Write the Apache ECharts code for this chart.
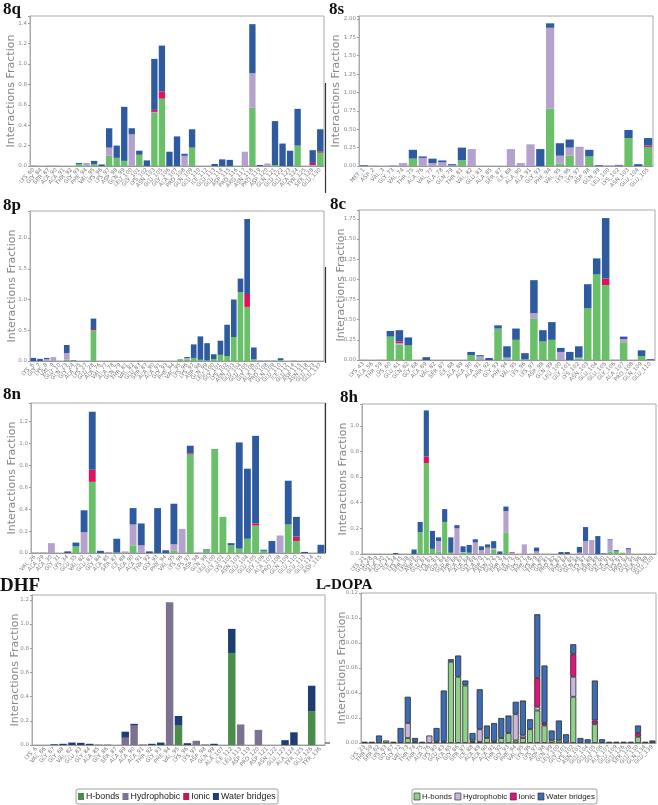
<!DOCTYPE html>
<html><head><meta charset="utf-8">
<script src="https://cdn.jsdelivr.net/npm/echarts@6/dist/echarts.min.js"></script>
<style>html,body{margin:0;padding:0;background:#fff}#c{width:658px;height:805px}</style>
</head><body><div id="c"></div>
<script>
// ---------- DATA ----------
const seriesNames = ['H-bonds','Hydrophobic','Ionic','Water bridges'];

// 8q
const q_cats = ['LYS_60','GLY_84','SER_87','ALA_90','ALA_91','THR_92','GLY_93','PHE_94','VAL_95','LYS_96','LYS_97','ASP_98','GLN_99','LEU_100','GLY_101','LYS_102','ASN_103','GLU_105','GLY_106','ALA_107','PRO_108','GLN_109','GLU_110','ILE_112','GLU_113','GLU_114','ASP_115','PRO_116','ARG_117','ASN_118','PRO_119','ASP_120','GLN_121','GLU_122','GLU_123','ALA_124','TYR_125','SER_128','GLU_130'];
const q_hb  = [0,0,0,0,0,0,0.02,0,0.02,0, 0.10,0.08,0.05,0,0.11,0,0.52,0.66,0,0, 0,0.18,0,0,0,0,0,0,0,0.57, 0,0,0.01,0,0,0.20,0,0,0.13];
const q_hp  = [0.005,0,0.004,0.004,0,0,0,0.03,0,0, 0.08,0,0,0.31,0,0,0.01,0,0,0, 0.10,0,0,0,0,0,0,0,0.14,0.34, 0,0.025,0,0,0,0,0,0.01,0];
const q_ion = [0,0,0,0,0,0,0,0,0,0, 0,0,0,0,0,0,0.02,0.07,0,0, 0,0,0,0,0,0,0,0,0,0, 0,0,0,0,0,0,0,0.02,0.01];
const q_wb  = [0,0,0,0,0,0,0.01,0,0.03,0.015, 0.19,0.12,0.53,0.06,0.04,0.055,0.50,0.45,0.14,0.29, 0.02,0.18,0,0,0.02,0.065,0.06,0,0,0.48, 0.01,0,0.43,0.22,0.15,0.36,0,0.125,0.22];

// 8s
const s_cats = ['MET_1','ASP_2','VAL_3','GLY_73','VAL_74','THR_75','ALA_76','VAL_77','ALA_78','GLN_79','THR_81','VAL_82','GLU_83','ALA_85','SER_87','ILE_88','ALA_90','ALA_91','GLY_93','PHE_94','VAL_95','LYS_96','LYS_97','ASP_98','GLN_99','LEU_100','LYS_102','ASN_103','GLU_104','GLU_105'];
const s_hb  = [0.004,0,0,0,0, 0.10,0,0,0,0, 0.08,0,0,0,0, 0,0,0,0,0.78, 0.03,0.14,0,0.13,0, 0,0,0.38,0,0.26];
const s_hp  = [0,0.005,0,0.01,0.04, 0,0.11,0.04,0.05,0.01, 0,0.23,0,0,0, 0.23,0.04,0.285,0,1.10, 0.11,0.11,0.255,0,0, 0.01,0.005,0,0,0];
const s_ion = [0,0,0,0,0, 0,0,0,0,0, 0,0,0,0,0, 0,0,0,0,0, 0,0,0,0,0, 0,0,0,0,0.02];
const s_wb  = [0.008,0,0,0,0, 0.12,0.02,0.06,0.025,0.015, 0.17,0,0,0,0, 0,0,0.005,0.23,0.06, 0.17,0.11,0.005,0.09,0.01, 0,0.01,0.11,0.025,0.10];

// 8p
const p_cats = ['LYS_6','GLY_7','LYS_8','VAL_9','GLU_10','GLN_23','GLY_24','ALA_25','LYS_27','GLU_28','ALA_76','VAL_77','ALA_78','GLN_79','THR_81','VAL_82','GLU_83','SER_87','ALA_90','ALA_91','GLY_93','PHE_94','VAL_95','LYS_96','LYS_97','ASP_98','GLN_99','LEU_100','GLY_101','LYS_102','ASN_103','GLU_104','GLU_105','GLY_106','ALA_107','PRO_108','GLN_109','GLU_110','ILE_112','GLU_114','ASP_115','ASN_118','GLU_123','GLU_137'];
const p_hb  = [0,0,0,0,0,0.02,0,0,0,0.5, 0,0,0,0,0,0,0,0,0,0, 0,0,0.03,0.02,0.05,0.02,0.01,0.03,0.10,0.08, 0.39,1.12,0.88,0.03,0,0,0,0.015,0,0, 0,0,0,0];
const p_hp  = [0,0,0.03,0.055,0,0.11,0.008,0,0.004,0, 0,0,0,0,0,0,0.006,0,0,0.005, 0,0,0,0.03,0,0,0,0,0,0, 0,0,0,0,0,0,0,0,0,0.008, 0,0,0,0];
const p_ion = [0,0,0,0,0,0,0,0,0,0.02, 0,0,0,0,0,0,0,0,0,0, 0,0,0,0,0,0,0,0,0,0, 0,0,0.21,0,0,0,0,0,0,0, 0,0,0,0];
const p_wb  = [0.05,0.035,0.02,0.005,0,0.13,0.007,0,0,0.17, 0,0,0,0,0,0,0,0,0,0, 0,0,0,0.015,0.22,0.38,0.28,0.08,0.23,0.51, 0.61,0.22,1.22,0.19,0.004,0.004,0.004,0.03,0,0, 0,0,0,0];

// 8c
const c_cats = ['LYS_43','ALA_56','THR_59','LYS_60','GLU_61','GLN_62','GLY_68','ALA_69','VAL_82','SER_87','ILE_88','ALA_89','ALA_90','ALA_91','THR_92','GLY_93','PHE_94','VAL_95','LYS_96','LYS_97','ASP_98','GLN_99','LEU_100','GLY_101','LYS_102','ASN_103','GLU_104','GLU_105','GLY_106','ALA_107','PRO_108','GLN_109','GLU_110'];
const c_hb  = [0,0,0,0.29,0.19,0.18,0,0,0,0, 0,0,0.06,0.01,0,0.39,0.01,0.25,0.01,0.51, 0.23,0.25,0,0,0.02,0.64,1.06,0.93,0,0.22, 0,0.05,0];
const c_hp  = [0.003,0,0.003,0,0.02,0,0,0,0,0, 0,0,0,0.035,0,0,0.02,0,0,0.07, 0,0,0.10,0,0.01,0,0,0,0.005,0.04, 0,0,0];
const c_ion = [0,0,0,0,0.02,0,0,0,0,0, 0,0,0,0,0,0,0,0,0,0, 0,0,0,0,0,0,0,0.08,0,0, 0,0,0];
const c_wb  = [0,0,0,0.07,0.14,0.10,0,0.035,0,0, 0,0,0.04,0.015,0.025,0.04,0.14,0.14,0.075,0.41, 0.14,0.22,0.05,0.10,0.14,0.30,0.20,0.75,0,0.03, 0,0.07,0.01];

// 8n
const n_cats = ['VAL_26','ALA_29','ALA_30','GLY_31','LYS_34','GLU_35','VAL_82','GLU_83','GLY_84','ALA_85','SER_87','ILE_88','ALA_90','ALA_91','THR_92','GLY_93','PHE_94','VAL_95','LYS_96','LYS_97','ASP_98','GLN_99','LEU_100','GLY_101','LYS_102','ASN_103','GLU_104','GLU_105','GLY_106','ALA_107','PRO_108','GLN_109','GLU_110','GLU_113','GLU_114','ASP_115'];
const n_hb  = [0,0,0,0,0,0.06,0,0.65,0,0, 0.005,0,0.07,0,0,0,0,0.02,0,0.90, 0,0.03,0.95,0.33,0.07,0.04,0.13,0.25,0.02,0, 0,0.26,0.11,0,0,0];
const n_hp  = [0.005,0.005,0.09,0,0,0,0.19,0,0,0.01, 0,0.015,0.19,0.07,0,0,0,0.06,0.22,0, 0.005,0,0,0,0,0,0,0,0,0, 0.16,0,0,0,0,0];
const n_ion = [0,0,0,0,0,0,0,0.11,0,0, 0,0,0,0,0,0,0,0,0,0.01, 0,0,0,0,0,0,0,0.02,0,0, 0,0,0.04,0,0,0];
const n_wb  = [0,0,0,0,0.015,0.035,0.20,0.53,0.02,0, 0.125,0,0.15,0.20,0.015,0.41,0.025,0.37,0,0.07, 0,0.005,0,0,0.02,0.97,0.64,0.80,0.01,0.11, 0,0.40,0.18,0.01,0,0.075];

// 8h
const h_cats = ['LYS_21','GLU_28','GLY_29','ALA_30','GLU_31','ILE_34','LYS_35','SER_38','LEU_39','ASP_60','GLU_61','LYS_62','VAL_63','GLY_64','GLU_65','THR_66','ALA_67','ALA_68','GLY_69','ALA_70','ASP_71','ASN_72','GLU_73','THR_74','ALA_75','VAL_76','LYS_77','PHE_78','LYS_79','THR_80','GLY_81','PRO_82','ILE_83','PHE_84','GLU_85','GLN_86','LYS_87','ALA_88','SER_89','GLY_90','ALA_91','GLY_92','LYS_93','PRO_94','GLU_95','ALA_96','GLU_98','GLU_100'];
const h_hb  = [0,0,0,0,0,0,0,0,0,0.17, 0.71,0.04,0.02,0.25,0.01,0,0.01,0.01,0,0, 0,0.035,0,0.165,0,0,0,0,0,0, 0,0,0,0,0,0,0,0,0,0, 0.02,0.02,0.01,0,0,0,0,0];
const h_hp  = [0,0,0,0,0,0,0,0,0,0, 0,0,0.08,0,0,0.2,0.005,0,0.09,0.03, 0.05,0.01,0,0.17,0.01,0,0.075,0,0.02,0, 0,0,0,0,0,0.01,0.1,0.1,0,0, 0.09,0,0,0.035,0,0,0,0];
const h_ion = [0,0,0,0,0,0,0,0,0,0, 0.05,0,0,0,0,0,0,0,0,0, 0,0,0,0,0.005,0,0,0,0,0, 0,0,0,0,0,0,0,0,0,0, 0,0,0,0,0,0,0,0];
const h_wb  = [0,0,0,0,0,0.008,0,0,0.035,0.08, 0.36,0.14,0.03,0.10,0.12,0.025,0.045,0.06,0.025,0.03, 0.025,0.055,0.02,0.035,0,0,0,0,0.03,0, 0,0,0.015,0.015,0,0.045,0.11,0.005,0.14,0.005, 0.005,0.01,0,0.01,0,0,0,0];

// DHF
const d_cats = ['LYS_6','VAL_66','GLY_67','GLY_68','VAL_82','GLU_83','GLY_84','ALA_85','GLY_86','SER_87','ALA_89','ALA_90','ALA_91','THR_92','GLY_93','PHE_94','VAL_95','LYS_96','LYS_97','ASP_98','GLN_99','ALA_107','ILE_112','LEU_113','ASP_119','PRO_120','ASP_121','ASN_122','GLU_123','ALA_124','TYR_125','GLU_126','TYR_136'];
const d_hb  = [0,0,0,0,0,0,0,0,0,0, 0,0,0,0,0,0,0.16,0,0,0, 0,0,0.76,0,0,0,0,0,0,0, 0,0.28,0];
const d_hp  = [0,0,0,0,0,0,0,0.004,0.004,0, 0.06,0.16,0.005,0,0,1.18,0,0,0.035,0.005, 0,0,0,0.17,0,0.125,0,0,0,0, 0,0,0];
const d_ion = [0,0,0,0,0,0,0,0,0,0, 0,0,0,0,0,0,0,0,0,0, 0,0,0,0,0,0,0,0,0,0, 0,0,0];
const d_wb  = [0,0,0.006,0.01,0.02,0.018,0.01,0,0,0, 0.05,0.015,0,0.01,0.02,0,0.08,0.015,0,0, 0.01,0,0.20,0,0,0,0,0,0.04,0.105, 0,0.21,0];

// L-DOPA
const l_cats = ['LYS_23','THR_59','SER_62','LYS_63','GLY_67','GLY_72','VAL_73','THR_74','THR_75','ALA_76','LYS_80','GLU_83','ALA_85','GLY_86','SER_87','ILE_88','ALA_89','ALA_90','ALA_91','THR_92','GLY_93','PHE_94','VAL_95','LYS_96','LYS_97','ASP_98','GLN_99','LEU_100','GLY_101','LYS_102','ASN_103','GLU_104','GLU_105','GLY_106','ALA_107','GLU_109','GLU_126','SER_128','GLU_130','GLN_134','GLU_139'];
const l_hb  = [0,0,0,0.002,0,0,0.004,0.001,0,0, 0.001,0.001,0.065,0.053,0.046,0.001,0.001,0.004,0.001,0.004, 0.008,0.002,0.004,0.011,0.026,0.014,0.002,0.002,0,0.037, 0,0,0.015,0,0,0,0,0,0.005,0, 0];
const l_hp  = [0,0,0,0,0,0,0.012,0,0,0.006, 0,0,0,0,0,0.001,0.01,0,0,0, 0,0.021,0.002,0,0.003,0,0,0,0,0.016, 0,0,0,0,0,0,0,0,0,0, 0];
const l_ion = [0,0,0,0,0,0,0,0,0,0, 0,0,0,0,0,0,0,0,0,0, 0,0,0,0,0.023,0.002,0,0,0,0.018, 0,0,0.003,0,0,0,0,0,0.003,0, 0];
const l_wb  = [0.001,0.001,0.006,0,0.001,0.012,0.021,0.003,0.001,0, 0.011,0.041,0.002,0.017,0.004,0.006,0.032,0.01,0.015,0.016, 0.014,0.01,0.028,0.008,0.051,0.046,0.008,0.016,0.007,0.008, 0.004,0.003,0.032,0.003,0.001,0.001,0.001,0.001,0.006,0.001, 0.002];

// ---------- LAYOUT / STYLE ----------
const palA = ['#6abf69','#b4a2cc','#e0115f','#2e5aa0'];
const palD = ['#4a8d4a','#7c7290','#c8154c','#203d72'];
const palL = ['#8fd18b','#c8b6dc','#e2137c','#3b6cb4'];

const panels = [
  {t:'8q', tx:3,  ty:1,   cats:q_cats, d:[q_hb,q_hp,q_ion,q_wb], g:{left:30,top:16,width:294,height:150}, max:1.47, iv:0.2, dec:1, pal:palA, ng:13},
  {t:'8s', tx:329,ty:1,   cats:s_cats, d:[s_hb,s_hp,s_ion,s_wb], g:{left:359,top:16,width:294,height:150}, max:2.04, iv:0.25, dec:2, pal:palA, ng:17},
  {t:'8p', tx:3,  ty:197, cats:p_cats, d:[p_hb,p_hp,p_ion,p_wb], g:{left:30,top:211,width:294,height:150}, max:2.44, iv:0.5, dec:1, pal:palA, ng:12},
  {t:'8c', tx:330,ty:196, cats:c_cats, d:[c_hb,c_hp,c_ion,c_wb], g:{left:359,top:210,width:296,height:150}, max:1.86, iv:0.25, dec:2, pal:palA, ng:12},
  {t:'8n', tx:3,  ty:386, cats:n_cats, d:[n_hb,n_hp,n_ion,n_wb], g:{left:31,top:403,width:294,height:150}, max:1.37, iv:0.2, dec:1, pal:palA, ng:13},
  {t:'8h', tx:340,ty:389, cats:h_cats, d:[h_hb,h_hp,h_ion,h_wb], g:{left:362,top:404,width:294,height:150}, max:1.17, iv:0.2, dec:1, pal:palA, ng:13},
  {t:'DHF',tx:0,  ty:577, cats:d_cats, d:[d_hb,d_hp,d_ion,d_wb], g:{left:32,top:595,width:293,height:150}, max:1.24, iv:0.2, dec:1, pal:palD, tsize:19, ng:11},
  {t:'L-DOPA',tx:316,ty:578, cats:l_cats, d:[l_hb,l_hp,l_ion,l_wb], g:{left:361,top:593,width:295,height:150}, max:0.12, iv:0.02, dec:2, pal:palL, outline:true, tsize:15, ng:13}
];

const grid=[], xAxis=[], yAxis=[], series=[], title=[];
panels.forEach((p,i)=>{
  grid.push(Object.assign({show:true, borderColor:'#aaa', borderWidth:1, backgroundColor:'transparent'}, p.g));
  title.push({text:p.t, left:p.tx, top:p.ty, padding:0,
    textStyle:{fontFamily:'Liberation Serif', fontWeight:'bold', fontSize:p.tsize||17, color:'#111'}});
  xAxis.push({type:'category', gridIndex:i, data:p.cats,
    axisLine:{lineStyle:{color:'#999'}}, axisTick:{alignWithLabel:true, length:2, lineStyle:{color:'#999'}},
    axisLabel:{rotate:45, interval:0, fontSize:5.5, color:'#777', margin:3, fontFamily:'DejaVu Sans'}});
  const iv=p.iv, dec=p.dec;
  yAxis.push({type:'value', gridIndex:i, min:0, max:p.max, interval:iv,
    splitLine:{show:false}, axisLine:{show:true, lineStyle:{color:'#aaa'}},
    axisTick:{show:true, length:2, lineStyle:{color:'#999'}},
    axisLabel:{fontSize:5.5, color:'#888', margin:3, fontFamily:'DejaVu Sans',
      formatter:v=>{const r=v/iv; return Math.abs(r-Math.round(r))>1e-6?'':v.toFixed(dec);}},
    name:'Interactions Fraction', nameLocation:'middle', nameGap:p.ng, nameMoveOverlap:false,
    nameTextStyle:{fontSize:11, color:'#888', fontFamily:'DejaVu Sans'}});
  p.d.forEach((arr,k)=>{
    series.push({type:'bar', name:seriesNames[k], stack:'s'+i, xAxisIndex:i, yAxisIndex:i,
      barCategoryGap:'16%',
      data:arr.map(v=>v===0?null:v),
      itemStyle: p.outline ? {color:p.pal[k], borderColor:'#2a2a2a', borderWidth:0.8} : {color:p.pal[k]}});
  });
});

// legend boxes laid out to fit the reference box widths
const LFONT = 'Liberation Sans';
const mctx = document.createElement('canvas').getContext('2d');
function legendBox(x, y, w, pal, outline){
  const sw=6, sgap=2, igap=3, pad=2;
  mctx.font = '10px "'+LFONT+'"';
  const tw = seriesNames.reduce((a,n)=>a+mctx.measureText(n).width,0);
  const avail = w - 2*pad - 4*(sw+sgap) - 3*igap;
  const fs = Math.min(10.5, 10*avail/tw);
  mctx.font = fs+'px "'+LFONT+'"';
  const els=[{type:'rect', shape:{x:x, y:y, width:w, height:15, r:2}, style:{fill:'#fff', stroke:'#888', lineWidth:0.8}}];
  let cx = x+pad;
  seriesNames.forEach((n,k)=>{
    els.push({type:'rect', shape:{x:cx, y:y+4, width:sw, height:7},
      style:{fill:pal[k], stroke: outline?'#333':pal[k], lineWidth: outline?0.7:0}});
    cx += sw+sgap;
    els.push({type:'text', style:{text:n, x:cx, y:y+7.5, textVerticalAlign:'middle', fontSize:fs, fontFamily:LFONT, fill:'#222'}});
    cx += mctx.measureText(n).width + igap;
  });
  return els;
}

const graphic = [].concat(
  legendBox(76, 789, 202, palD, false),
  legendBox(412, 789, 185, palL, true),
  [
    {type:'line', shape:{x1:325.5,y1:83,x2:325.5,y2:193}, style:{stroke:'#333', lineWidth:1.2}},
    {type:'line', shape:{x1:325.5,y1:267,x2:325.5,y2:363}, style:{stroke:'#333', lineWidth:1.2}},
    {type:'line', shape:{x1:325.5,y1:403,x2:325.5,y2:553}, style:{stroke:'#333', lineWidth:1.2}},
    {type:'line', shape:{x1:325,y1:586,x2:330,y2:586}, style:{stroke:'#333', lineWidth:1}},
    {type:'line', shape:{x1:325,y1:743,x2:330,y2:743}, style:{stroke:'#333', lineWidth:1}}
  ]
);

const chart = echarts.init(document.getElementById('c'), null, {renderer:'canvas'});
chart.setOption({animation:false, backgroundColor:'#fff', title, grid, xAxis, yAxis, series, graphic});
</script></body></html>
